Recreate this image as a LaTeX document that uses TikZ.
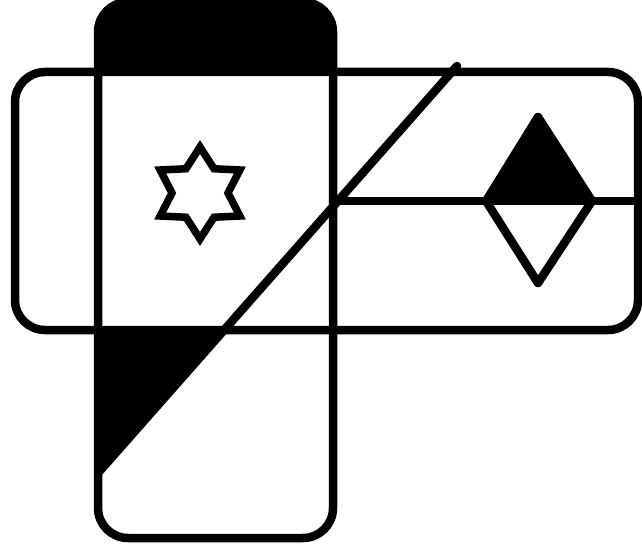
\documentclass[tikz,border=0pt]{standalone}
\begin{document}
\begin{tikzpicture}[x=1pt,y=-1pt,
  edge/.style={line width=8.5pt, line join=round, line cap=round},
  blk/.style={fill=black}]
\useasboundingbox (0,0) rectangle (642,553);
% black top band of vertical rectangle
\begin{scope}
  \clip[rounded corners=30pt] (98,2) rectangle (333,538);
  \fill[blk] (90,0) rectangle (340,72);
\end{scope}
% black triangle bottom-left
\fill[blk] (98,332) -- (222.5,332) -- (98,473) -- cycle;
% diamond top half filled
\fill[blk] (486,201) -- (538,117) -- (592,201) -- cycle;
% vertical rounded rectangle
\draw[edge, rounded corners=30pt] (98,2) rectangle (333,538);
% horizontal rounded rectangle
\draw[edge, rounded corners=30pt] (15,72) rectangle (638,330);
% diagonal
\coordinate (dtop) at (457,66);
\coordinate (dbot) at (98,473);
\draw[edge] (dtop) -- (dbot);
% horizontal middle line
\coordinate (hl) at (333,201);
\coordinate (hr) at (638,201);
\draw[edge] (hl) -- (hr);
% diamond outline
\draw[edge] (538,117) -- (592,201) -- (538,283) -- (486,201) -- cycle;
% six-pointed star
\begin{scope}[shift={(200,193)}]
\draw[line width=7.5pt, line join=miter]
  (90:46) -- (120:28) -- (150:46) -- (180:28) -- (210:46) -- (240:28) --
  (270:46) -- (300:28) -- (330:46) -- (0:28) -- (30:46) -- (60:28) -- cycle;
\end{scope}
\end{tikzpicture}
\end{document}
